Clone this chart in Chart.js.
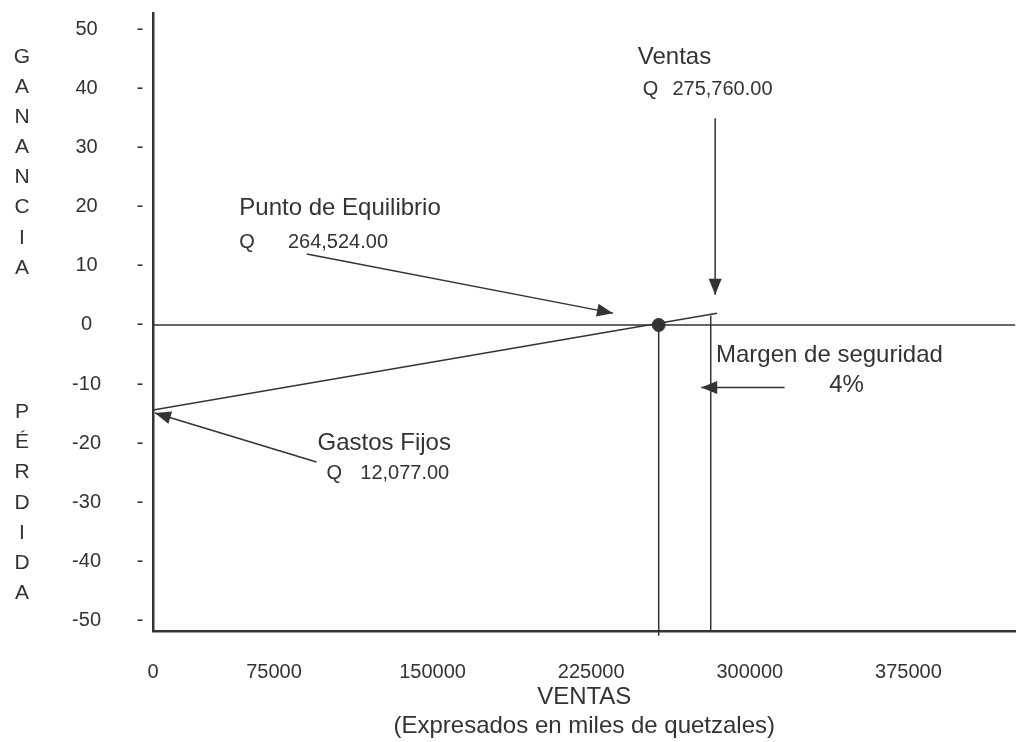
<!DOCTYPE html>
<html>
<head>
<meta charset="utf-8">
<title>Punto de Equilibrio</title>
<script src="https://cdn.jsdelivr.net/npm/chart.js@4.4.1/dist/chart.umd.min.js"></script>
<style>
  html, body { margin: 0; padding: 0; background: #fff; }
  #wrap { width: 1023px; height: 742px; }
</style>
</head>
<body>
<div id="wrap"><canvas id="chart"></canvas></div>
<script>
// Axis ranges and ticks
const xMin = 17800;
const xMax = 425600;
const yMin = -51.8;
const yMax = 52.8;
const xTickValues = [17800, 75000, 150000, 225000, 300000, 375000];
const xTickLabels = ['0', '75000', '150000', '225000', '300000', '375000'];
const yTickValues = [50, 40, 30, 20, 10, 0, -10, -20, -30, -40, -50];

// Lines
const zeroLineX = [17800, 425600];
const zeroLineY = [0, 0];
const resultLineX = [17800, 284500];
const resultLineY = [-14.4, 2.0];
const breakevenX = [256900, 256900];
const breakevenY = [0, -52.6];
const salesX = [281500, 281500];
const salesY = [1.6, -51.8];
const breakevenPointX = [256900];
const breakevenPointY = [0];

// Arrows (last point is the tip)
const arrowEquilibrioX = [90500, 235300];
const arrowEquilibrioY = [12.0, 2.0];
const arrowVentasX = [283600, 283600];
const arrowVentasY = [35.0, 5.1];
const arrowMargenX = [316400, 277000];
const arrowMargenY = [-10.6, -10.6];
const arrowGastosX = [95100, 18700];
const arrowGastosY = [-23.2, -14.9];

const INK = '#333333';
const FONT = "'Liberation Sans', Arial, sans-serif";

// Text notes placed in data units
const notes = [
  { text: 'Punto de Equilibrio', x: 58600, y: 19.8, size: 24 },
  { text: 'Q', x: 58600, y: 14.0, size: 20 },
  { text: '264,524.00', x: 81600, y: 14.0, size: 20 },
  { text: 'Ventas', x: 247000, y: 45.3, size: 24 },
  { text: 'Q', x: 249400, y: 39.8, size: 20 },
  { text: '275,760.00', x: 263400, y: 39.8, size: 20 },
  { text: 'Margen de seguridad', x: 284000, y: -5.1, size: 24 },
  { text: '4%', x: 337500, y: -10.3, size: 24 },
  { text: 'Gastos Fijos', x: 95600, y: -20.0, size: 24 },
  { text: 'Q', x: 99800, y: -25.2, size: 20 },
  { text: '12,077.00', x: 115800, y: -25.2, size: 20 }
];

const gainLetters = ['G', 'A', 'N', 'A', 'N', 'C', 'I', 'A'];
const lossLetters = ['P', 'É', 'R', 'D', 'I', 'D', 'A'];

function pts(xs, ys) {
  return xs.map((x, i) => ({ x: x, y: ys[i] }));
}

function lineSet(xs, ys, extra) {
  return Object.assign({
    data: pts(xs, ys),
    showLine: true,
    borderColor: INK,
    borderWidth: 1.5,
    pointRadius: 0,
    fill: false
  }, extra || {});
}

// Arrow heads, side dashes, vertical words and notes
const decorations = {
  id: 'decorations',
  afterDatasetsDraw(chart) {
    const ctx = chart.ctx;
    const xs = chart.scales.x;
    const ys = chart.scales.y;
    ctx.save();

    chart.data.datasets.forEach((ds, i) => {
      if (!ds.arrow) return;
      const p = chart.getDatasetMeta(i).data;
      const a = p[0], b = p[p.length - 1];
      const ang = Math.atan2(b.y - a.y, b.x - a.x);
      const len = 16, half = 6.5;
      ctx.beginPath();
      ctx.moveTo(b.x, b.y);
      ctx.lineTo(b.x - len * Math.cos(ang) + half * Math.sin(ang), b.y - len * Math.sin(ang) - half * Math.cos(ang));
      ctx.lineTo(b.x - len * Math.cos(ang) - half * Math.sin(ang), b.y - len * Math.sin(ang) + half * Math.cos(ang));
      ctx.closePath();
      ctx.fillStyle = INK;
      ctx.fill();
    });

    ctx.fillStyle = INK;
    ctx.textBaseline = 'middle';

    // little dashes next to the y ticks
    ctx.textAlign = 'center';
    ctx.font = '20px ' + FONT;
    yTickValues.forEach(v => {
      ctx.fillText('-', xs.left - 13, ys.getPixelForValue(v));
    });

    // GANANCIA / PÉRDIDA written top to bottom
    ctx.font = '21px ' + FONT;
    const step = 30.1;
    const gainMid = ys.getPixelForValue(27.5);
    gainLetters.forEach((ch, k) => {
      ctx.fillText(ch, 22, gainMid + (k - (gainLetters.length - 1) / 2) * step);
    });
    const lossMid = ys.getPixelForValue(-30.1);
    lossLetters.forEach((ch, k) => {
      ctx.fillText(ch, 22, lossMid + (k - (lossLetters.length - 1) / 2) * step);
    });

    // notes
    ctx.textAlign = 'left';
    notes.forEach(n => {
      ctx.font = n.size + 'px ' + FONT;
      ctx.fillText(n.text, xs.getPixelForValue(n.x), ys.getPixelForValue(n.y));
    });

    ctx.restore();
  }
};

const ctx = document.getElementById('chart').getContext('2d');
new Chart(ctx, {
  type: 'scatter',
  data: {
    datasets: [
      lineSet(zeroLineX, zeroLineY),
      lineSet(resultLineX, resultLineY),
      lineSet(breakevenX, breakevenY, { clip: false }),
      lineSet(salesX, salesY),
      lineSet(arrowEquilibrioX, arrowEquilibrioY, { arrow: true }),
      lineSet(arrowVentasX, arrowVentasY, { arrow: true }),
      lineSet(arrowMargenX, arrowMargenY, { arrow: true }),
      lineSet(arrowGastosX, arrowGastosY, { arrow: true, clip: false }),
      {
        data: pts(breakevenPointX, breakevenPointY),
        pointRadius: 6.5,
        pointBackgroundColor: INK,
        pointBorderColor: INK,
        showLine: false
      }
    ]
  },
  options: {
    responsive: true,
    maintainAspectRatio: false,
    animation: false,
    layout: { padding: { top: 13, right: 0, bottom: 0, left: 0 } },
    plugins: {
      legend: { display: false },
      tooltip: { enabled: false }
    },
    scales: {
      x: {
        type: 'linear',
        min: xMin,
        max: xMax,
        afterBuildTicks: (scale) => {
          scale.ticks = xTickValues.map(v => ({ value: v }));
        },
        afterFit: (scale) => { scale.height = 111; },
        grid: { display: false, drawTicks: false },
        border: { display: true, color: INK, width: 2.5 },
        ticks: {
          autoSkip: false,
          maxRotation: 0,
          padding: 29,
          color: INK,
          font: { family: FONT, size: 20 },
          callback: (value) => xTickLabels[xTickValues.indexOf(value)]
        },
        title: {
          display: true,
          text: ['VENTAS', '(Expresados en miles de quetzales)'],
          color: INK,
          font: { family: FONT, size: 24, lineHeight: 1.2 },
          padding: { top: 0, bottom: 1 }
        }
      },
      y: {
        type: 'linear',
        min: yMin,
        max: yMax,
        afterBuildTicks: (scale) => {
          scale.ticks = yTickValues.map(v => ({ value: v }));
        },
        afterFit: (scale) => { scale.width = 153; },
        // invisible tick marks only push the labels away from the axis
        grid: {
          display: true,
          drawOnChartArea: false,
          drawTicks: true,
          tickLength: 52,
          color: 'rgba(0,0,0,0)'
        },
        border: { display: true, color: INK, width: 2.5 },
        ticks: {
          autoSkip: false,
          crossAlign: 'center',
          padding: 0,
          color: INK,
          font: { family: FONT, size: 20 }
        }
      }
    }
  },
  plugins: [decorations]
});
</script>
</body>
</html>
